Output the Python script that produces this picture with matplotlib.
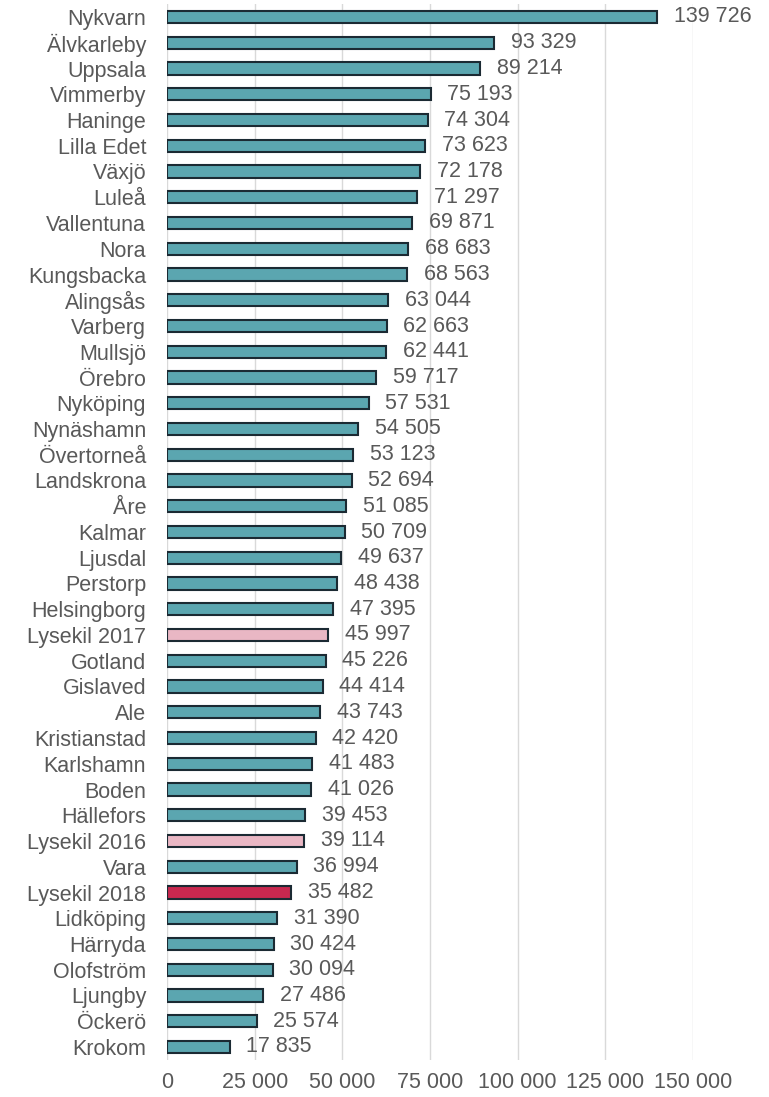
import matplotlib
matplotlib.use("Agg")
import matplotlib.pyplot as plt
import numpy as np

plt.rcParams['font.family'] = ['Liberation Sans', 'DejaVu Sans']

names = ["Nykvarn", "Älvkarleby", "Uppsala", "Vimmerby", "Haninge", "Lilla Edet", "Växjö",
         "Luleå", "Vallentuna", "Nora", "Kungsbacka", "Alingsås", "Varberg", "Mullsjö",
         "Örebro", "Nyköping", "Nynäshamn", "Övertorneå", "Landskrona", "Åre", "Kalmar",
         "Ljusdal", "Perstorp", "Helsingborg", "Lysekil 2017", "Gotland", "Gislaved", "Ale",
         "Kristianstad", "Karlshamn", "Boden", "Hällefors", "Lysekil 2016", "Vara",
         "Lysekil 2018", "Lidköping", "Härryda", "Olofström", "Ljungby", "Öckerö", "Krokom"]
values = [139726, 93329, 89214, 75193, 74304, 73623, 72178, 71297, 69871, 68683, 68563,
          63044, 62663, 62441, 59717, 57531, 54505, 53123, 52694, 51085, 50709, 49637,
          48438, 47395, 45997, 45226, 44414, 43743, 42420, 41483, 41026, 39453, 39114,
          36994, 35482, 31390, 30424, 30094, 27486, 25574, 17835]
highlight = {"Lysekil 2017": "#e9b7c4", "Lysekil 2016": "#e9b7c4", "Lysekil 2018": "#c8284f"}
xticks = [0, 25000, 50000, 75000, 100000, 125000, 150000]

W, H = 769, 1097
FS = 15.5
fig = plt.figure(figsize=(W / 100, H / 100), dpi=100)
n = len(names)
top_px, step = 17, (1047 - 17) / (n - 1)
ax = fig.add_axes([167 / W, 1 - (top_px + (n - 0.5) * step) / H, (693 - 167) / W, n * step / H])

y = np.arange(n)
colors = [highlight.get(nm, "#5ba6b0") for nm in names]
ax.barh(y, values, height=0.47, color=colors, edgecolor="#1b2a33", linewidth=1.5, zorder=3)
for yi, v in zip(y, values):
    ax.annotate(f"{v:,}".replace(",", " "), (v, yi), xytext=(12, 0), textcoords="offset points",
                va="center", ha="left", fontsize=FS, color="#595959", annotation_clip=False)

ax.set_ylim(n - 0.5, -0.5)
ax.set_xlim(0, 150000)
ax.set_yticks(y)
ax.set_yticklabels(names, fontsize=FS, color="#595959")
ax.set_xticks(xticks)
ax.set_xticklabels([f"{t:,}".replace(",", " ") for t in xticks], fontsize=FS, color="#595959")
ax.tick_params(length=0)
ax.tick_params(axis="y", pad=15)
ax.tick_params(axis="x", pad=9)
ax.grid(axis="x", color="#d9d9d9", linewidth=1, zorder=0)
for s in ax.spines.values():
    s.set_visible(False)

fig.savefig("out.png", dpi=100)
